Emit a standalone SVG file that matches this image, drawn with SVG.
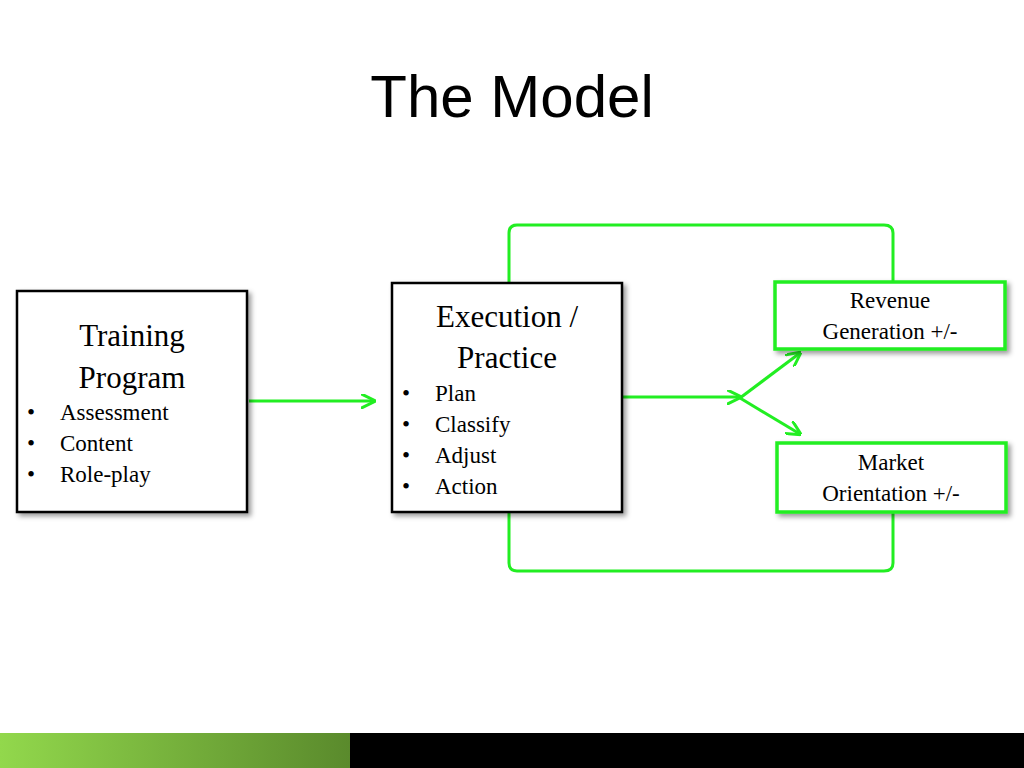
<svg xmlns="http://www.w3.org/2000/svg" width="1024" height="768" viewBox="0 0 1024 768">
<style>
.box{fill:#fff;stroke:#000;stroke-width:2.5}
.gbox{fill:#fff;stroke:#22ee22;stroke-width:3.5}
.c{fill:none;stroke:#22ee22;stroke-width:3}
.s{font-family:"Liberation Serif",serif;fill:#000}
</style>
<defs>
<marker id="ah" viewBox="0 0 10 10" refX="9" refY="5" markerWidth="5" markerHeight="5" orient="auto"><path d="M0,0 L10,5 L0,10" fill="none" stroke="#22ee22" stroke-width="2"/></marker>
<linearGradient id="gr" x1="0" x2="1"><stop offset="0" stop-color="#92d84c"/><stop offset="1" stop-color="#5a8a2c"/></linearGradient>
<filter id="sh" x="-10%" y="-10%" width="130%" height="130%"><feDropShadow dx="3" dy="3" stdDeviation="2.5" flood-opacity="0.4"/></filter>
</defs>
<rect width="1024" height="768" fill="#fff"/>
<text x="512" y="117" text-anchor="middle" font-family="Liberation Sans,sans-serif" font-size="60">The Model</text>
<g id="connectors">
<path class="c" d="M509,283 V233 Q509,225 517,225 H884 Q893,225 893,233 V282"/>
<path class="c" d="M509,512 V563 Q509,571 517,571 H884 Q893,571 893,563 V512"/>
<line class="c" x1="249" y1="401" x2="374" y2="401" marker-end="url(#ah)"/>
<line class="c" x1="622" y1="397" x2="740" y2="397" marker-end="url(#ah)"/>
<line class="c" x1="740" y1="398" x2="800" y2="353" marker-end="url(#ah)"/>
<line class="c" x1="740" y1="398" x2="800" y2="434" marker-end="url(#ah)"/>
</g>
<g id="training">
<rect class="box" x="17" y="291" width="230" height="221" filter="url(#sh)"/>
<text class="s" x="132" y="346" text-anchor="middle" font-size="31">Training</text>
<text class="s" x="132" y="388" text-anchor="middle" font-size="31">Program</text>
<g font-size="23"><text class="s" x="27" y="420">•</text><text class="s" x="60" y="420">Assessment</text>
<text class="s" x="27" y="451">•</text><text class="s" x="60" y="451">Content</text>
<text class="s" x="27" y="482">•</text><text class="s" x="60" y="482">Role-play</text></g>
</g>
<g id="execution">
<rect class="box" x="392" y="283" width="230" height="229" filter="url(#sh)"/>
<text class="s" x="507" y="327" text-anchor="middle" font-size="31">Execution /</text>
<text class="s" x="507" y="368" text-anchor="middle" font-size="31">Practice</text>
<g font-size="23"><text class="s" x="402" y="401">•</text><text class="s" x="435" y="401">Plan</text>
<text class="s" x="402" y="432">•</text><text class="s" x="435" y="432">Classify</text>
<text class="s" x="402" y="463">•</text><text class="s" x="435" y="463">Adjust</text>
<text class="s" x="402" y="494">•</text><text class="s" x="435" y="494">Action</text></g>
</g>
<g id="revenue">
<rect class="gbox" x="775" y="282" width="230" height="67" filter="url(#sh)"/>
<text class="s" x="890" y="308" text-anchor="middle" font-size="23">Revenue</text>
<text class="s" x="890" y="339" text-anchor="middle" font-size="23">Generation +/-</text>
</g>
<g id="market">
<rect class="gbox" x="777" y="443" width="229" height="69" filter="url(#sh)"/>
<text class="s" x="891" y="470" text-anchor="middle" font-size="23">Market</text>
<text class="s" x="891" y="501" text-anchor="middle" font-size="23">Orientation +/-</text>
</g>
<rect x="0" y="733" width="350" height="35" fill="url(#gr)"/>
<rect x="350" y="733" width="674" height="35" fill="#000"/>
</svg>
